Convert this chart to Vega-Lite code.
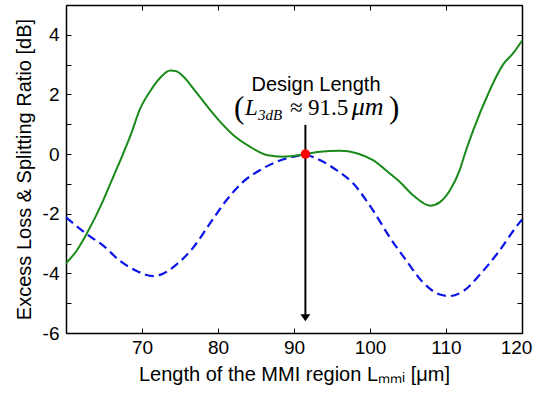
{
  "$schema": "https://vega.github.io/schema/vega-lite/v6.json",
  "width": 456,
  "height": 328,
  "autosize": "none",
  "padding": {"left": 66, "top": 5, "right": 13, "bottom": 60},
  "background": "white",
  "config": {
    "view": {"stroke": null},
    "font": "Liberation Sans",
    "axis": {
      "grid": false,
      "domainColor": "black",
      "domainWidth": 1.5,
      "tickColor": "black",
      "tickWidth": 1,
      "tickSize": -5,
      "labelFont": "Liberation Sans",
      "labelFontSize": 19,
      "labelColor": "black",
      "labelFlush": false,
      "labelOverlap": false,
      "titleFont": "Liberation Sans",
      "titleFontSize": 20,
      "titleFontWeight": "normal",
      "titleColor": "black"
    }
  },
  "datasets": {
    "green": [
      {"x": 60, "y": -3.66}, {"x": 61.4, "y": -3.24}, {"x": 62.7, "y": -2.68}, {"x": 64.9, "y": -1.55},
      {"x": 66.2, "y": -0.77}, {"x": 67.5, "y": 0.0}, {"x": 68.6, "y": 0.7}, {"x": 69.7, "y": 1.49},
      {"x": 71.05, "y": 2.1}, {"x": 72.4, "y": 2.56}, {"x": 73.7, "y": 2.8}, {"x": 74.5, "y": 2.78},
      {"x": 75.4, "y": 2.61}, {"x": 77.2, "y": 2.05}, {"x": 78.9, "y": 1.5}, {"x": 80.3, "y": 1.08},
      {"x": 82.0, "y": 0.64}, {"x": 84.2, "y": 0.25}, {"x": 86.4, "y": -0.03}, {"x": 88.6, "y": -0.09},
      {"x": 91.2, "y": -0.02}, {"x": 93.4, "y": 0.08}, {"x": 96.05, "y": 0.11}, {"x": 98.25, "y": 0.03},
      {"x": 100.4, "y": -0.2}, {"x": 102.6, "y": -0.65}, {"x": 103.9, "y": -0.93}, {"x": 105.7, "y": -1.39},
      {"x": 107.9, "y": -1.73}, {"x": 109.2, "y": -1.61}, {"x": 110.5, "y": -1.22}, {"x": 111.8, "y": -0.54},
      {"x": 112.5, "y": 0.02}, {"x": 113.6, "y": 0.81}, {"x": 115.6, "y": 2.05}, {"x": 117.5, "y": 3.0},
      {"x": 118.9, "y": 3.4}, {"x": 120, "y": 3.8}
    ],
    "blue": [
      {"x": 60, "y": -2.12}, {"x": 62.7, "y": -2.68}, {"x": 64.9, "y": -3.07}, {"x": 67.1, "y": -3.58},
      {"x": 69.3, "y": -3.92}, {"x": 71.5, "y": -4.09}, {"x": 72.4, "y": -4.05}, {"x": 74.6, "y": -3.69},
      {"x": 76.75, "y": -3.13}, {"x": 78.9, "y": -2.34}, {"x": 81.1, "y": -1.55}, {"x": 83.3, "y": -0.93},
      {"x": 85.5, "y": -0.54}, {"x": 87.7, "y": -0.26}, {"x": 89.9, "y": -0.09}, {"x": 91.3, "y": -0.02},
      {"x": 93.4, "y": -0.2}, {"x": 95.6, "y": -0.54}, {"x": 97.8, "y": -0.99}, {"x": 100.4, "y": -1.89},
      {"x": 102.6, "y": -2.79}, {"x": 104.8, "y": -3.58}, {"x": 107.0, "y": -4.31}, {"x": 109.2, "y": -4.71},
      {"x": 110.5, "y": -4.76}, {"x": 112.3, "y": -4.59}, {"x": 114.5, "y": -4.03}, {"x": 116.7, "y": -3.35},
      {"x": 119.7, "y": -2.29}, {"x": 120, "y": -2.2}
    ]
  },
  "resolve": {"axis": {"x": "independent", "y": "independent"}},
  "layer": [
    {
      "mark": {"type": "rule", "color": "#808080", "strokeWidth": 1},
      "encoding": {
        "y": {"datum": 0, "type": "quantitative", "scale": {"domain": [-6, 5], "nice": false, "zero": false}, "axis": null}
      }
    },
    {
      "data": {"name": "blue"},
      "mark": {"type": "line", "color": "#0a14e6", "strokeWidth": 2.2, "strokeDash": [9, 5], "interpolate": "monotone"},
      "encoding": {
        "x": {"field": "x", "type": "quantitative", "scale": {"domain": [60, 120], "nice": false, "zero": false},
              "axis": {"orient": "top", "labels": false, "title": null, "values": [60, 70, 80, 90, 100, 110, 120]}},
        "y": {"field": "y", "type": "quantitative", "scale": {"domain": [-6, 5], "nice": false, "zero": false},
              "axis": {"orient": "right", "labels": false, "title": null, "values": [-6, -5, -4, -3, -2, -1, 0, 1, 2, 3, 4, 5]}}
      }
    },
    {
      "data": {"name": "green"},
      "mark": {"type": "line", "color": "#1a8a1a", "strokeWidth": 2, "interpolate": "monotone"},
      "encoding": {
        "x": {"field": "x", "type": "quantitative", "scale": {"domain": [60, 120], "nice": false, "zero": false},
              "axis": {"orient": "bottom", "values": [60, 70, 80, 90, 100, 110, 120], "labelPadding": 10,
                       "labelOffset": {"condition": {"test": "datum.value == 120", "value": -6}, "value": 0},
                       "labelExpr": "datum.value == 60 ? '' : '' + datum.value",
                       "title": "Length of the MMI region Lₘₘᵢ [μm]", "titlePadding": 7}},
        "y": {"field": "y", "type": "quantitative", "scale": {"domain": [-6, 5], "nice": false, "zero": false},
              "axis": {"orient": "left", "values": [-6, -5, -4, -3, -2, -1, 0, 1, 2, 3, 4, 5], "labelPadding": 12,
                       "labelExpr": "(datum.value % 2 == 0) ? ('' + datum.value) : ''",
                       "title": "Excess Loss & Splitting Ratio [dB]", "titlePadding": 8}}
      }
    },
    {
      "data": {"values": [{"x": 91.5, "y": 0.98, "y2": -5.4}]},
      "mark": {"type": "rule", "color": "black", "strokeWidth": 2},
      "encoding": {
        "x": {"field": "x", "type": "quantitative", "axis": null},
        "y": {"field": "y", "type": "quantitative", "axis": null},
        "y2": {"field": "y2"}
      }
    },
    {
      "data": {"values": [{"x": 91.5, "y": -5.49}]},
      "mark": {"type": "point", "shape": "M-1,-0.7L1,-0.7L0,0.7Z", "filled": true, "color": "black", "size": 100, "opacity": 1},
      "encoding": {
        "x": {"field": "x", "type": "quantitative", "axis": null},
        "y": {"field": "y", "type": "quantitative", "axis": null}
      }
    },
    {
      "data": {"values": [{"x": 91.5, "y": 0}]},
      "mark": {"type": "point", "shape": "circle", "filled": true, "color": "#ff0000", "size": 90, "opacity": 1},
      "encoding": {
        "x": {"field": "x", "type": "quantitative", "axis": null},
        "y": {"field": "y", "type": "quantitative", "axis": null}
      }
    },
    {
      "data": {"values": [{"x": 92.9, "y": 2.13, "t": "Design Length"}]},
      "mark": {"type": "text", "font": "Liberation Sans", "fontSize": 20, "color": "black", "align": "center", "baseline": "alphabetic"},
      "encoding": {
        "x": {"field": "x", "type": "quantitative", "axis": null},
        "y": {"field": "y", "type": "quantitative", "axis": null},
        "text": {"field": "t"}
      }
    },
    {
      "data": {"values": [{"x": 82.1, "y": 1.2, "t": "("}, {"x": 102.5, "y": 1.2, "t": ")"}]},
      "mark": {"type": "text", "font": "Liberation Serif", "fontSize": 31, "color": "black", "align": "left", "baseline": "alphabetic"},
      "encoding": {
        "x": {"field": "x", "type": "quantitative", "axis": null},
        "y": {"field": "y", "type": "quantitative", "axis": null},
        "text": {"field": "t"}
      }
    },
    {
      "data": {"values": [{"x": 83.55, "y": 1.32, "t": "L"}]},
      "mark": {"type": "text", "font": "Liberation Serif", "fontSize": 23, "fontStyle": "italic", "color": "black", "align": "left", "baseline": "alphabetic"},
      "encoding": {
        "x": {"field": "x", "type": "quantitative", "axis": null},
        "y": {"field": "y", "type": "quantitative", "axis": null},
        "text": {"field": "t"}
      }
    },
    {
      "data": {"values": [{"x": 97.6, "y": 1.32, "t": "μm"}]},
      "mark": {"type": "text", "font": "Liberation Serif", "fontSize": 26, "fontStyle": "italic", "color": "black", "align": "left", "baseline": "alphabetic"},
      "encoding": {
        "x": {"field": "x", "type": "quantitative", "axis": null},
        "y": {"field": "y", "type": "quantitative", "axis": null},
        "text": {"field": "t"}
      }
    },
    {
      "data": {"values": [{"x": 85.26, "y": 1.15, "t": "3dB"}]},
      "mark": {"type": "text", "font": "Liberation Serif", "fontSize": 15, "fontStyle": "italic", "color": "black", "align": "left", "baseline": "alphabetic"},
      "encoding": {
        "x": {"field": "x", "type": "quantitative", "axis": null},
        "y": {"field": "y", "type": "quantitative", "axis": null},
        "text": {"field": "t"}
      }
    },
    {
      "data": {"values": [{"x": 89.47, "y": 1.32, "t": "≈"}, {"x": 91.84, "y": 1.32, "t": "91.5"}]},
      "mark": {"type": "text", "font": "Liberation Serif", "fontSize": 23, "color": "black", "align": "left", "baseline": "alphabetic"},
      "encoding": {
        "x": {"field": "x", "type": "quantitative", "axis": null},
        "y": {"field": "y", "type": "quantitative", "axis": null},
        "text": {"field": "t"}
      }
    }
  ]
}
